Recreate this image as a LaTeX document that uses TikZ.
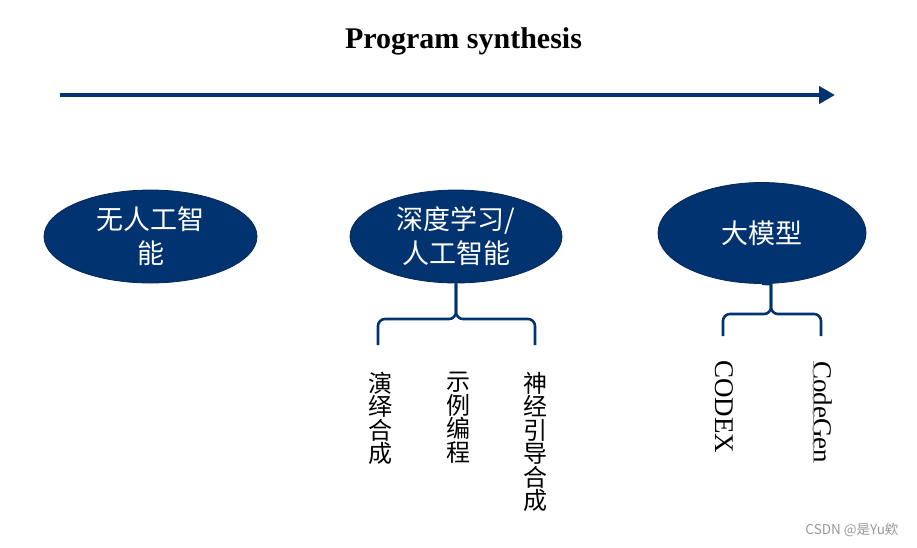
\documentclass[tikz,border=0pt]{standalone}
\usepackage{fontspec}
\setmainfont{Liberation Serif}
\newfontfamily\cjk{Noto Sans CJK SC}
\usetikzlibrary{shapes.geometric,arrows.meta}
\definecolor{navy}{RGB}{0,51,112}
\definecolor{navyedge}{RGB}{10,40,85}
\definecolor{spellred}{RGB}{240,110,110}
\tikzset{
  era/.style={ellipse, fill=navy, draw=navyedge, line width=0.8pt, inner sep=0pt,
    text=white, align=center, font=\cjk\fontsize{27}{34}\selectfont},
  bracepath/.style={draw=navy, line width=2.6pt, rounded corners=7pt},
  vtext/.style={anchor=north, inner sep=0pt, align=center, font=\cjk\fontsize{24}{23.5}\selectfont},
  rtext/.style={rotate=-90, anchor=west, inner sep=0pt, font=\fontsize{27}{27}\selectfont},
}
\begin{document}
\begin{tikzpicture}[x=1pt,y=-1pt]
\useasboundingbox[fill=white] (0,0) rectangle (917,547);
% title
\node[font=\bfseries\fontsize{30}{31}\selectfont] (title) at (463.5,41.5) {Program synthesis};
% timeline arrow
\coordinate (a0) at (60,95);
\coordinate (a1) at (835,95);
\draw[navy, line width=4pt, -{Triangle[length=16pt,width=17pt]}] (a0) -- (a1);
% ellipses
\node[era, minimum width=213pt, minimum height=93pt] (e1) at (150.5,236.5) {无人工智\\能};
\node[era, minimum width=212pt, minimum height=93pt] (e2) at (456,236.5) {深度学习/\\人工智能};
\node[era, minimum width=208pt, minimum height=101pt] (e3) at (762,233) {大模型};
% brace 1
\coordinate (b1l) at (378,345);
\coordinate (b1r) at (535,345);
\path[bracepath] (b1l) -- (378,319) -- (456,319) -- (e2.south);
\path[bracepath] (b1r) -- (535,319) -- (456,319) -- (e2.south);
% brace 2
\coordinate (b2l) at (723,336);
\coordinate (b2r) at (821,336);
\path[bracepath] (b2l) -- (723,314) -- (771,314) -- (771,283);
\path[bracepath] (b2r) -- (821,314) -- (771,314) -- (771,283);
\draw[navy, line width=2.6pt] (771,284) -- (e3.south);
% vertical labels
\node[vtext] (t1) at (380,372) {演\\绎\\合\\成};
\node[vtext] (t2) at (458,372) {示\\例\\编\\程};
\node[vtext] (t3) at (535,372) {神\\经\\引\\导\\合\\成};
\node[rtext] (t4) at (724,360) {CODEX};
\node[rtext] (t5) at (823,361) {CodeGen};
\coordinate (u0) at (813.5,361);
\coordinate (u1) at (813.5,463);
\draw[spellred, line width=1pt] (u0) -- (u1);
% watermark
\node[anchor=east, text=black!40, font=\cjk\fontsize{13.5}{14}\selectfont] (wm) at (902,530) {CSDN @是Yu欸};
\end{tikzpicture}
\end{document}
